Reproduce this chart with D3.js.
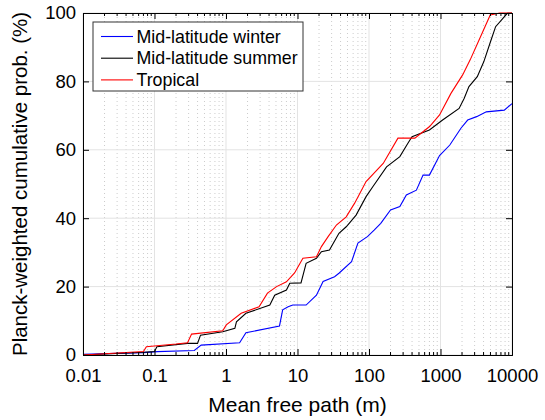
<!DOCTYPE html>
<html>
<head>
<meta charset="utf-8">
<script src="https://cdn.jsdelivr.net/npm/d3@7"></script>
<style>
  body { margin: 0; background: #fff; }
  text { font-family: "Liberation Sans", Arial, Helvetica, sans-serif; fill: #000; }
</style>
</head>
<body>
<div id="chart"></div>
<script>
// Mean free path (m) and cumulative probability (%)
const winterX = [0.01, 0.07, 0.11, 0.36, 0.45, 1.55, 1.9, 5.6, 6.2, 7.4, 8.6, 13.2, 18.4, 22.8, 33, 38, 57, 70, 95, 118, 146, 200, 270, 333, 460, 570, 700, 970, 1350, 1930, 2400, 3200, 4370, 7800, 10000];
const winterY = [0.2, 0.7, 1.0, 1.3, 2.9, 3.6, 6.5, 8.5, 13.2, 14.1, 14.6, 14.6, 17.5, 21.5, 22.9, 23.9, 27.3, 32.7, 34.6, 36.5, 38.5, 42.4, 43.4, 46.8, 48.2, 52.6, 52.6, 58.3, 61.4, 66.3, 68.7, 69.7, 71.1, 71.6, 73.5];

const summerX = [0.01, 0.07, 0.1, 0.108, 0.29, 0.4, 0.44, 0.9, 1.33, 1.4, 1.9, 4.1, 4.8, 7, 7.8, 11.2, 13.2, 18.4, 21.6, 28, 38, 48, 66, 91, 113, 176, 270, 350, 400, 700, 1070, 1820, 2140, 2500, 3270, 4040, 5000, 5900, 8600, 10000];
const summerY = [0, 0.8, 1, 2.4, 3.4, 3.4, 5.8, 6.8, 7.8, 9.7, 12.2, 14.6, 17.5, 19, 21, 21.1, 26.8, 28.3, 30.2, 30.7, 35.6, 37.5, 40.9, 46.3, 49.2, 55, 58, 61.9, 63.8, 65.8, 68.7, 72.1, 75, 78.5, 81.4, 85.8, 91.6, 96, 99.9, 100];

const tropicalX = [0.01, 0.07, 0.077, 0.2, 0.29, 0.33, 0.9, 1.01, 1.63, 2.9, 3.8, 5.1, 7.0, 9.1, 11.9, 18.4, 21.6, 26.8, 35, 48, 63, 91, 158, 254, 438, 704, 970, 1400, 2040, 2600, 3550, 4960, 6800, 10000];
const tropicalY = [0, 1, 2.4, 3.2, 3.6, 6.1, 7.1, 8.8, 12.2, 14.1, 18.1, 20, 21.4, 24, 28.3, 28.7, 31.7, 34.6, 38, 40.4, 44.4, 50.7, 56, 63.4, 63.4, 66.8, 70.2, 76.5, 81.9, 86.3, 92.6, 99.4, 100, 100];

const seriesNames = ["Mid-latitude winter", "Mid-latitude summer", "Tropical"];
const seriesColors = ["#0000ff", "#000000", "#ff0000"];

const xTicks = [0.01, 0.1, 1, 10, 100, 1000, 10000];
const yTicks = [0, 20, 40, 60, 80, 100];

const series = [
    { name: seriesNames[0], color: seriesColors[0], values: winterX.map((x, i) => ({ x: x, y: winterY[i] })) },
    { name: seriesNames[1], color: seriesColors[1], values: summerX.map((x, i) => ({ x: x, y: summerY[i] })) },
    { name: seriesNames[2], color: seriesColors[2], values: tropicalX.map((x, i) => ({ x: x, y: tropicalY[i] })) }
];

const margin = { top: 13, right: 33, bottom: 65, left: 83 };
const totalWidth = 545, totalHeight = 420;
const width = totalWidth - margin.left - margin.right;
const height = totalHeight - margin.top - margin.bottom;

const svg = d3.select("#chart").append("svg")
    .attr("width", totalWidth)
    .attr("height", totalHeight)
    .append("g")
    .attr("transform", `translate(${margin.left},${margin.top})`);

// Scales
const x = d3.scaleLog().domain([0.01, 10000]).range([0, width]);
const y = d3.scaleLinear().domain([0, 100]).range([height, 0]);

// Minor log ticks (2..9 in each decade)
const minorTicks = [];
for (let d = 0; d < xTicks.length - 1; d++) {
    for (let k = 2; k <= 9; k++) minorTicks.push(xTicks[d] * k);
}

// Minor grid (dotted)
svg.append("g").selectAll("line")
    .data(minorTicks)
    .join("line")
    .attr("x1", d => x(d)).attr("x2", d => x(d))
    .attr("y1", 0).attr("y2", height)
    .attr("stroke", "#cccccc")
    .attr("stroke-width", 1)
    .attr("stroke-dasharray", "1,3");

// Major grid
svg.append("g").selectAll("line")
    .data(xTicks)
    .join("line")
    .attr("x1", d => x(d)).attr("x2", d => x(d))
    .attr("y1", 0).attr("y2", height)
    .attr("stroke", "#e3e3e3")
    .attr("stroke-width", 1);

svg.append("g").selectAll("line")
    .data(yTicks)
    .join("line")
    .attr("x1", 0).attr("x2", width)
    .attr("y1", d => y(d)).attr("y2", d => y(d))
    .attr("stroke", "#e3e3e3")
    .attr("stroke-width", 1);

// Curves
const line = d3.line()
    .x(d => x(d.x))
    .y(d => y(d.y));

svg.append("g").selectAll("path")
    .data(series)
    .join("path")
    .attr("d", d => line(d.values))
    .attr("fill", "none")
    .attr("stroke", d => d.color)
    .attr("stroke-width", 1.1);

// Axes with inward ticks, box on
const xAxis = d3.axisBottom(x).tickValues(xTicks).tickSize(-6).tickPadding(14);
const yAxis = d3.axisLeft(y).tickValues(yTicks).tickSize(-6).tickPadding(7);

const gx = svg.append("g")
    .attr("transform", `translate(0,${height})`)
    .call(xAxis);
gx.selectAll("text").style("font-size", "18.5px").text(d => String(d));

const gy = svg.append("g").call(yAxis);
gy.selectAll("text").style("font-size", "18.5px");

// Minor ticks bottom & top
svg.append("g").selectAll("line")
    .data(minorTicks)
    .join("line")
    .attr("x1", d => x(d)).attr("x2", d => x(d))
    .attr("y1", height).attr("y2", height - 3)
    .attr("stroke", "#000");
svg.append("g").selectAll("line")
    .data(minorTicks)
    .join("line")
    .attr("x1", d => x(d)).attr("x2", d => x(d))
    .attr("y1", 0).attr("y2", 3)
    .attr("stroke", "#000");

// Top and right box axes
const gTop = svg.append("g").call(d3.axisTop(x).tickValues(xTicks).tickSize(-6).tickFormat(""));
const gRight = svg.append("g").attr("transform", `translate(${width},0)`)
    .call(d3.axisRight(y).tickValues(yTicks).tickSize(-6).tickFormat(""));

[gx, gy, gTop, gRight].forEach(g => {
    g.select(".domain").attr("stroke", "#000").attr("stroke-width", 1);
    g.selectAll(".tick line").attr("stroke", "#000");
});

// Axis labels
svg.append("text")
    .attr("x", width / 2)
    .attr("y", height + 57)
    .attr("text-anchor", "middle")
    .style("font-size", "21px")
    .text("Mean free path (m)");

svg.append("text")
    .attr("transform", "rotate(-90)")
    .attr("x", -height / 2)
    .attr("y", -56)
    .attr("text-anchor", "middle")
    .style("font-size", "20.5px")
    .text("Planck-weighted cumulative prob. (%)");

// Legend
const legend = svg.append("g").attr("transform", "translate(10,9)");
legend.append("rect")
    .attr("width", 210)
    .attr("height", 69)
    .attr("fill", "#fff")
    .attr("stroke", "#333")
    .attr("stroke-width", 1);

const items = legend.selectAll(".item")
    .data(series)
    .join("g")
    .attr("class", "item")
    .attr("transform", (d, i) => `translate(0,${14.5 + i * 21.7})`);

items.append("line")
    .attr("x1", 8).attr("x2", 40)
    .attr("stroke", d => d.color)
    .attr("stroke-width", 1.1);

items.append("text")
    .attr("x", 43.5)
    .attr("dy", "0.35em")
    .style("font-size", "17.8px")
    .text(d => d.name);
</script>
</body>
</html>
